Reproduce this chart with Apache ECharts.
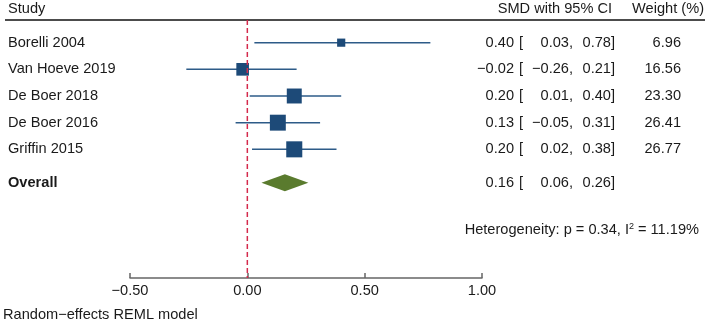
<!DOCTYPE html>
<html>
<head>
<meta charset="utf-8">
<script src="https://cdn.jsdelivr.net/npm/echarts@6/dist/echarts.min.js"></script>
<style>
  html, body { margin: 0; padding: 0; background: #fff; }
  #chart { width: 709px; height: 325px; }
</style>
</head>
<body>
<div id="chart"></div>
<script>
// study rows
const studies = ['Borelli 2004', 'Van Hoeve 2019', 'De Boer 2018', 'De Boer 2016', 'Griffin 2015']
const smd = [0.40, -0.02, 0.20, 0.13, 0.20]
const ciLow = [0.03, -0.26, 0.01, -0.05, 0.02]
const ciHigh = [0.78, 0.21, 0.40, 0.31, 0.38]
const weights = [6.96, 16.56, 23.30, 26.41, 26.77]

// pooled estimate
const overallLabel = 'Overall'
const overallEst = [0.16]
const overallLow = [0.06]
const overallHigh = [0.26]
const overallRow = 5.25

const heterogeneity = 'Heterogeneity: p = 0.34, I{sup|2} = 11.19%'
const modelNote = 'Random\u2212effects REML model'
const xTicks = [-0.5, 0, 0.5, 1.0]

const FONT = 'Liberation Sans, Arial, Helvetica, sans-serif'
const FS = 14.6
const TEXT = '#1a1a1a'
const BOX = '#1d4a78'
const CI_LINE = '#2d5b88'
const DIAMOND = '#5a7b2e'
const NULL_LINE = '#d42a4c'

const yMin = -0.85
const yMax = 8.825

function fmt(v) {
  const s = Math.abs(v).toFixed(2)
  return v < 0 ? '\u2212' + s : s
}

function txt(text, x, y, align, bold) {
  return {
    type: 'text',
    style: {
      text: text,
      x: x,
      y: y,
      align: align,
      verticalAlign: 'middle',
      fontSize: FS,
      fontFamily: FONT,
      fontWeight: bold ? 'bold' : 'normal',
      fill: TEXT,
    },
  }
}

function ciTexts(est, lo, hi, y) {
  return [
    txt(fmt(est), 514, y, 'right'),
    txt('[', 519, y, 'left'),
    txt(fmt(lo) + ',', 573, y, 'right'),
    txt(fmt(hi) + ']', 615, y, 'right'),
  ]
}

const studyData = studies.map((name, i) => [smd[i], i, ciLow[i], ciHigh[i], weights[i]])
const overallData = overallEst.map((v, i) => [v, overallRow, overallLow[i], overallHigh[i]])

function renderStudy(params, api) {
  const i = params.dataIndex
  const row = api.value(1)
  const pEst = api.coord([api.value(0), row])
  const pLo = api.coord([api.value(2), row])
  const pHi = api.coord([api.value(3), row])
  const size = 3.1 * Math.sqrt(api.value(4))
  const y = pEst[1]
  return {
    type: 'group',
    children: [
      {
        type: 'line',
        shape: { x1: pLo[0], y1: y, x2: pHi[0], y2: y },
        style: { stroke: CI_LINE, lineWidth: 1.5 },
      },
      {
        type: 'rect',
        shape: { x: pEst[0] - size / 2, y: y - size / 2, width: size, height: size },
        style: { fill: BOX },
      },
      txt(studies[i], 8, y, 'left'),
      ...ciTexts(api.value(0), api.value(2), api.value(3), y),
      txt(weights[i].toFixed(2), 681, y, 'right'),
    ],
  }
}

function renderOverall(params, api) {
  const row = api.value(1)
  const pEst = api.coord([api.value(0), row])
  const pLo = api.coord([api.value(2), row])
  const pHi = api.coord([api.value(3), row])
  const h = 8.5
  const y = pEst[1]
  return {
    type: 'group',
    children: [
      {
        type: 'polygon',
        shape: { points: [[pLo[0], y], [pEst[0], y - h], [pHi[0], y], [pEst[0], y + h]] },
        style: { fill: DIAMOND },
      },
      txt(overallLabel, 8, y, 'left', true),
      ...ciTexts(api.value(0), api.value(2), api.value(3), y),
    ],
  }
}

const chart = echarts.init(document.getElementById('chart'), null, { renderer: 'canvas' })

chart.setOption({
  animation: false,
  grid: { left: 130, right: 227, top: 20, bottom: 47, containLabel: false },
  xAxis: {
    type: 'value',
    min: xTicks[0],
    max: xTicks[xTicks.length - 1],
    interval: 0.5,
    axisLine: { onZero: false, lineStyle: { color: '#666', width: 1.5 } },
    axisTick: { inside: true, length: 5, lineStyle: { color: '#666', width: 1.5 } },
    axisLabel: {
      formatter: fmt,
      fontSize: FS,
      fontFamily: FONT,
      color: TEXT,
      margin: 5,
    },
    splitLine: { show: false },
  },
  yAxis: {
    type: 'value',
    inverse: true,
    min: yMin,
    max: yMax,
    show: false,
  },
  graphic: [
    {
      type: 'text', x: 8, y: 9,
      style: { text: 'Study', fontSize: FS, fontFamily: FONT, fill: TEXT, verticalAlign: 'middle' },
    },
    {
      type: 'text', x: 612, y: 9,
      style: { text: 'SMD with 95% CI', fontSize: FS, fontFamily: FONT, fill: TEXT, align: 'right', verticalAlign: 'middle' },
    },
    {
      type: 'text', x: 704, y: 9,
      style: { text: 'Weight (%)', fontSize: FS, fontFamily: FONT, fill: TEXT, align: 'right', verticalAlign: 'middle' },
    },
    {
      type: 'line',
      shape: { x1: 5, y1: 20, x2: 705, y2: 20 },
      style: { stroke: '#111', lineWidth: 1.5 },
    },
    {
      type: 'text', x: 699, y: 230,
      style: {
        text: heterogeneity,
        fontSize: FS,
        fontFamily: FONT,
        fill: TEXT,
        align: 'right',
        verticalAlign: 'middle',
        rich: {
          sup: { fontSize: 9, fontFamily: FONT, fill: TEXT, verticalAlign: 'top', lineHeight: 16 },
        },
      },
    },
    {
      type: 'text', x: 3, y: 315,
      style: { text: modelNote, fontSize: FS, fontFamily: FONT, fill: TEXT, verticalAlign: 'middle' },
    },
  ],
  series: [
    {
      type: 'custom',
      renderItem: renderStudy,
      encode: { x: [0, 2, 3], y: 1 },
      data: studyData,
      z: 2,
    },
    {
      type: 'custom',
      renderItem: renderOverall,
      encode: { x: [0, 2, 3], y: 1 },
      data: overallData,
      z: 2,
    },
    {
      type: 'line',
      data: [[0, yMin], [0, yMax]],
      symbol: 'none',
      lineStyle: { color: NULL_LINE, width: 1.5, type: [5, 3] },
      z: 3,
      silent: true,
    },
  ],
})
</script>
</body>
</html>
